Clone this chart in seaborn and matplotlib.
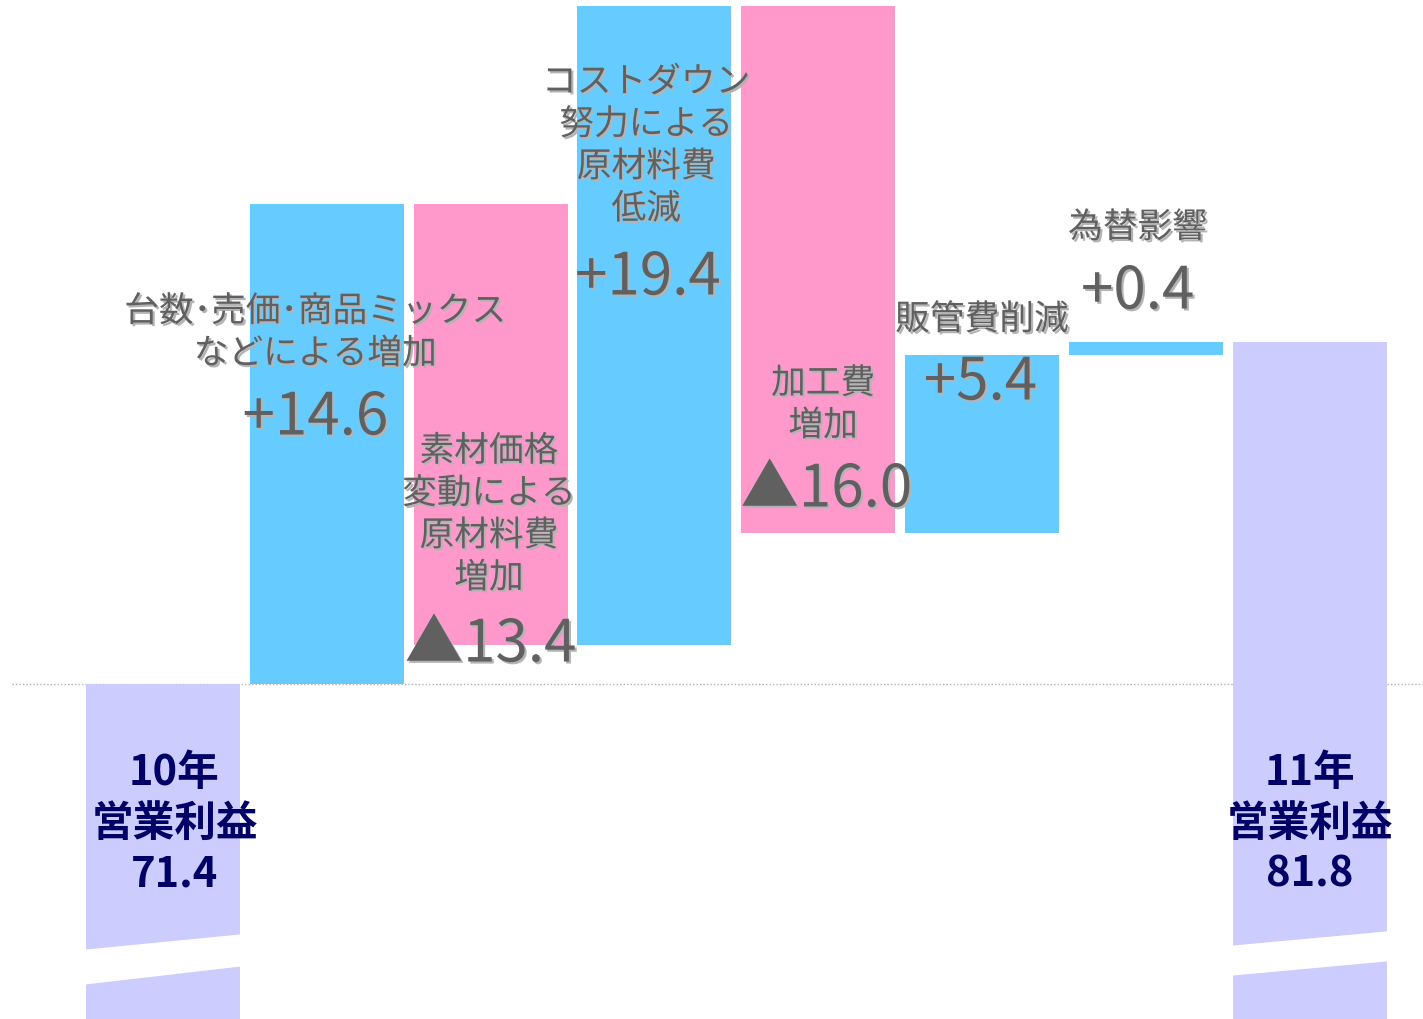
import numpy as np
import pandas as pd
import matplotlib
matplotlib.use("Agg")
import matplotlib.pyplot as plt
import matplotlib.patheffects as pe
import matplotlib.transforms as mtransforms
import seaborn as sns

# data
steps = ["10年", "販売", "素材", "コスト", "加工費", "販管費", "為替", "11年"]
changes = [71.4, 14.6, -13.4, 19.4, -16.0, 5.4, 0.4, 81.8]
kinds = ["base", "up", "down", "up", "down", "up", "up", "base"]
labels = ["10年\n営業利益\n71.4",
          "台数･売価･商品ミックス\nなどによる増加",
          "素材価格\n変動による\n原材料費\n増加",
          "コストダウン\n努力による\n原材料費\n低減",
          "加工費\n増加",
          "販管費削減",
          "為替影響",
          "11年\n営業利益\n81.8"]
values_txt = ["", "+14.6", "▲13.4", "+19.4", "▲16.0", "+5.4", "+0.4", ""]

colors = {"base": "#CCCCFF", "up": "#66CCFF", "down": "#FF99CC"}

# waterfall bottoms / tops
bottoms, tops = [], []
run = 0.0
for c, k in zip(changes, kinds):
    if k == "base":
        bottoms.append(0.0)
        tops.append(c)
        run = c
    else:
        lo, hi = sorted([run, run + c])
        bottoms.append(lo)
        tops.append(hi)
        run = run + c
df = pd.DataFrame({"step": steps, "bottom": bottoms, "top": tops, "kind": kinds})

sns.set_style("white")
plt.rcParams["font.family"] = ["Noto Sans CJK JP", "DejaVu Sans"]

fig = plt.figure(figsize=(14.23, 10.19), dpi=100)
ax = fig.add_axes([0, 0, 1, 1])

sns.barplot(data=df, x="step", y="top", hue="step",
            palette=[colors[k] for k in kinds], legend=False,
            width=0.94, saturation=1, ax=ax, zorder=2)
for patch, b, t in zip(ax.patches, bottoms, tops):
    patch.set_y(b)
    patch.set_height(t - b)
    patch.set_edgecolor("none")

# scale: 71.4 sits at row 684
k = 32.9
ax.set_ylim(71.4 - 335 / k, 71.4 + 684 / k)
ax.set_xlim(-163 / 163.8, (1423 - 163) / 163.8)
ax.axis("off")

# dotted baseline
ax.hlines(changes[0], -0.92, 7.7, colors="#b0b0b0", linestyles=(0, (1, 1.5)),
          linewidth=1, zorder=1)

# break marks on the two total bars (white slanted bands)
trans = mtransforms.blended_transform_factory(ax.transData, ax.transAxes)
H = 1019.0
for xi, (ul, ur, ll, lr) in [(0, (950, 934, 985, 966)), (7, (946, 931, 976, 961))]:
    xs = [xi - 0.5, xi + 0.5, xi + 0.5, xi - 0.5]
    ys = [1 - ul / H, 1 - ur / H, 1 - lr / H, 1 - ll / H]
    ax.fill(xs, ys, color="white", transform=trans, zorder=3, lw=0)

shadow = [pe.SimplePatchShadow(offset=(1.5, -1.5), shadow_rgbFace="#b4b4b4", alpha=1), pe.Normal()]
grey = "#606060"

# text positions (x offset from bar, row of block centre)
label_pos = {1: (-0.07, 333), 2: (-0.01, 515), 3: (-0.05, 146), 4: (0.03, 405),
             5: (0.0, 320), 6: (-0.05, 228)}
value_pos = {1: (-0.07, 418), 2: (0.0, 645), 3: (-0.04, 278), 4: (0.05, 490),
             5: (-0.01, 383), 6: (-0.05, 292)}

for i, (dx, row) in label_pos.items():
    ax.text(i + dx, 1 - row / H, labels[i], transform=trans, ha="center", va="center",
            fontsize=25, color=grey, linespacing=1.27, path_effects=shadow, zorder=5)
for i, (dx, row) in value_pos.items():
    ax.text(i + dx, 1 - row / H, values_txt[i], transform=trans, ha="center", va="center",
            fontsize=42, color=grey, path_effects=shadow, zorder=5)

for i, dx in [(0, 0.07), (7, 0.0)]:
    ax.text(i + dx, 1 - 823.5 / H, labels[i], transform=trans, ha="center", va="center",
            fontsize=30, fontweight="bold", color="#000066", linespacing=1.26, zorder=5)

fig.savefig("out.png", dpi=100)
